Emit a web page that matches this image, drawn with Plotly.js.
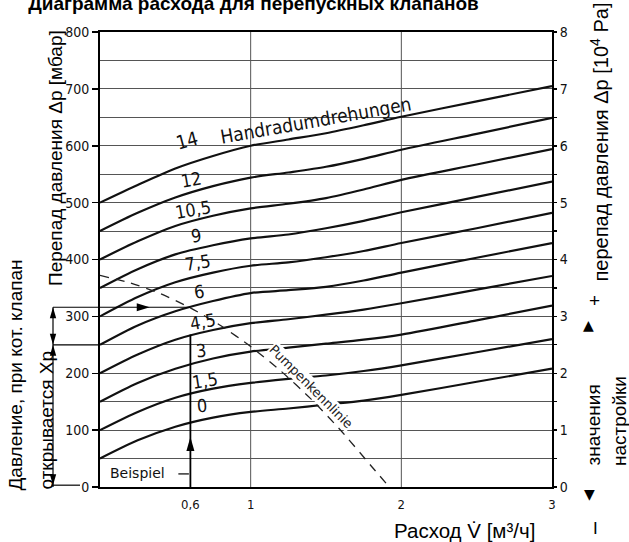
<!DOCTYPE html>
<html><head><meta charset="utf-8">
<script src="https://cdn.plot.ly/plotly-3.0.1.min.js"></script>
<style>html,body{margin:0;padding:0;background:#fff;}#chart{width:629px;height:542px;}</style>
</head><body><div id="chart"></div>
<script>
// ---- data ----
const flow = [0, 0.25, 0.5, 0.75, 1, 1.25, 1.5, 1.75, 2, 2.5, 3];
const settings = ['14', '12', '10,5', '9', '7,5', '6', '4,5', '3', '1,5', '0'];
const dp14  = [500, 531, 560, 582, 600, 611, 622, 636, 651, 678, 705];
const dp12  = [450, 482, 509, 529, 544, 553, 563, 577, 593, 621, 649];
const dp105 = [400, 432, 459, 477, 490, 498, 508, 523, 540, 567, 594];
const dp9   = [350, 383, 409, 425, 437, 444, 455, 468, 483, 510, 537];
const dp75  = [300, 334, 360, 377, 389, 395, 404, 415, 429, 455, 482];
const dp6   = [250, 284, 309, 327, 341, 346, 352, 363, 377, 403, 429];
const dp45  = [200, 233, 259, 276, 288, 295, 303, 312, 323, 347, 371];
const dp3   = [150, 183, 208, 226, 238, 245, 252, 259, 268, 293, 319];
const dp15  = [100, 132, 157, 173, 183, 190, 196, 204, 214, 237, 260];
const dp0   = [50, 82, 106, 122, 132, 138, 145, 152, 162, 185, 208];
const pumpFlow = [0, 0.2, 0.4, 0.6, 0.8, 1.0, 1.2, 1.4, 1.6, 1.8, 1.92];
const pumpDp   = [372, 359, 340, 315, 284, 247, 204, 155, 99, 37, 0];
const xTickVals = [0.6, 1, 2, 3];
const xTickText = ['0,6', '1', '2', '3'];
const leftTickVals = [0, 100, 200, 300, 400, 500, 600, 700, 800];
const rightTickVals = [0, 1, 2, 3, 4, 5, 6, 7, 8];
const exampleFlow = 0.6;      // Beispiel
const exampleDp = 316;        // pressure at example point
const exampleLineTop = 268;   // top of drawn vertical example line
const exampleArrowDp = 88;    // arrow tip on vertical line
const exampleArrowFlow = 0.33;// arrow tip on horizontal line
const openingDp = 250;        // Xp

const series = [dp14, dp12, dp105, dp9, dp75, dp6, dp45, dp3, dp15, dp0];

// ---- geometry ----
const W = 629, H = 542;
const M = {l: 100, r: 77, t: 32, b: 55};
const PW = W - M.l - M.r, PH = H - M.t - M.b;
const XR = [0, 3], YR = [0, 800];
const pxX = px => (px - M.l) / PW;            // paper x from pixel
const pxY = py => (H - M.b - py) / PH;        // paper y from pixel
const dX = v => (v - XR[0]) / (XR[1] - XR[0]); // paper x from data
const dY = v => (v - YR[0]) / (YR[1] - YR[0]); // paper y from data

const curveColor = '#111';
const traces = series.map((ys, i) => ({
  x: flow, y: ys, mode: 'lines', name: settings[i], hoverinfo: 'skip',
  line: {shape: 'spline', smoothing: 0.8, color: curveColor, width: 2.2}
}));
traces.push({x: pumpFlow, y: pumpDp, mode: 'lines', hoverinfo: 'skip',
  line: {shape: 'spline', smoothing: 0.6, color: '#222', width: 1.3, dash: '9px,7px'}});
traces.push({x: [0], y: [0], yaxis: 'y2', mode: 'markers', marker: {opacity: 0}, hoverinfo: 'skip'});

const digitFont = "'DejaVu Sans Condensed', 'Liberation Sans Narrow', 'DejaVu Sans', sans-serif";
const ruFont = "'Liberation Sans', Arial, sans-serif";

// arrowhead path in paper coords: tip (paper), direction, length, half width (px)
function arrow(tx, ty, dir, len, hw) {
  const lx = len / PW, ly = len / PH, wx = hw / PW, wy = hw / PH;
  let p;
  if (dir === 'up') p = `M${tx},${ty} L${tx - wx},${ty - ly} L${tx + wx},${ty - ly} Z`;
  else if (dir === 'down') p = `M${tx},${ty} L${tx - wx},${ty + ly} L${tx + wx},${ty + ly} Z`;
  else p = `M${tx},${ty} L${tx - lx},${ty - wy} L${tx - lx},${ty + wy} Z`;
  return {type: 'path', xref: 'paper', yref: 'paper', path: p, fillcolor: '#000', line: {width: 0}};
}

const dimX = pxX(53);
const shapes = [
  {type: 'line', xref: 'x', yref: 'paper', x0: 1, x1: 1, y0: 0, y1: 1, line: {color: '#555', width: 1}, layer: 'below'},
  {type: 'line', xref: 'x', yref: 'paper', x0: 2, x1: 2, y0: 0, y1: 1, line: {color: '#555', width: 1}, layer: 'below'},
  {type: 'line', xref: 'x', yref: 'y', x0: exampleFlow, x1: exampleFlow, y0: 0, y1: exampleLineTop, line: {color: '#000', width: 1.8}},
  {type: 'line', xref: 'x', yref: 'y', x0: 0.52, x1: 0.59, y0: 23, y1: 23, line: {color: '#000', width: 1.2}},
  {type: 'line', xref: 'paper', yref: 'y', x0: dimX, x1: dX(exampleFlow), y0: exampleDp, y1: exampleDp, line: {color: '#000', width: 1.2}},
  {type: 'line', xref: 'paper', yref: 'y', x0: dimX, x1: 0, y0: openingDp, y1: openingDp, line: {color: '#000', width: 1.2}},
  {type: 'line', xref: 'paper', yref: 'paper', x0: dimX - 0.004, x1: pxX(80), y0: 0.004, y1: 0.004, line: {color: '#000', width: 1.2}},
  {type: 'line', xref: 'paper', yref: 'paper', x0: dimX, x1: dimX, y0: dY(0), y1: dY(exampleDp), line: {color: '#000', width: 1.2}},
  arrow(dX(exampleFlow), dY(exampleArrowDp), 'up', 14, 4),
  arrow(dX(exampleArrowFlow), dY(exampleDp), 'right', 13, 4),
  arrow(dimX, dY(exampleDp), 'up', 11, 3.2),
  arrow(dimX, dY(openingDp), 'down', 11, 3.2),
  arrow(dimX, dY(openingDp), 'up', 11, 3.2),
  arrow(dimX, dY(0) + 0.004, 'down', 11, 3.2)
];

const labelPos = [
  [0.58, 610, -15], [0.61, 540, -10], [0.62, 488, -10], [0.64, 443, -8], [0.65, 394, -9],
  [0.66, 344, -8], [0.685, 291, -10], [0.67, 240, -6], [0.70, 188, -9], [0.68, 143, -5]
];
const annotations = settings.map((s, i) => ({
  text: s, x: labelPos[i][0], y: labelPos[i][1], xref: 'x', yref: 'y', showarrow: false,
  xanchor: 'center', yanchor: 'middle',
  textangle: labelPos[i][2], font: {family: digitFont, size: i === 0 ? 19 : 18, color: '#111'}
}));
function pa(text, px, py, opts) {
  return Object.assign({text: text, xref: 'paper', yref: 'paper', x: pxX(px), y: pxY(py),
    xanchor: 'center', yanchor: 'middle', showarrow: false,
    font: {family: ruFont, size: 19, color: '#000'}}, opts || {});
}
annotations.push(
  {text: 'Handradumdrehungen', x: 1.434, y: 645, xref: 'x', yref: 'y', showarrow: false, textangle: -10,
   xanchor: 'center', yanchor: 'middle', font: {family: digitFont, size: 19, color: '#111'}},
  {text: 'Pumpenkennlinie', x: 1.40, y: 176, xref: 'x', yref: 'y', showarrow: false, textangle: 45,
   xanchor: 'center', yanchor: 'middle',
   bgcolor: '#fff', borderpad: 0, font: {family: "'DejaVu Sans', sans-serif", size: 13, color: '#222'}},
  {text: 'Beispiel', x: 0.252, y: 25, xref: 'x', yref: 'y', showarrow: false, xanchor: 'center', yanchor: 'middle',
   font: {family: "'DejaVu Sans', sans-serif", size: 14, color: '#111'}},
  pa('Перепад давления Δp [мбар]', 55, 158, {textangle: -90}),
  pa('Давление, при кот. клапан', 15, 493, {textangle: -90, yanchor: 'bottom'}),
  pa('открывается Xp', 46, 492, {textangle: -90, yanchor: 'bottom'}),
  pa('перепад давления Δp [10<sup>4</sup> Pa]', 599, 284, {textangle: -90, yanchor: 'bottom',
     font: {family: ruFont, size: 20, color: '#000'}}),
  pa('+', 594, 300),
  pa('▲', 588.5, 325, {font: {family: "'DejaVu Sans', sans-serif", size: 14, color: '#000'}}),
  pa('значения', 593, 468, {textangle: -90, yanchor: 'bottom'}),
  pa('настройки', 619, 468, {textangle: -90, yanchor: 'bottom'}),
  pa('▼', 589, 494, {font: {family: "'DejaVu Sans', sans-serif", size: 14, color: '#000'}}),
  pa('I', 595, 528, {font: {family: ruFont, size: 17, color: '#000'}}),
  pa('Расход V̇ [м³/ч]', 464, 530, {font: {family: ruFont, size: 20.5, color: '#000'}})
);

const tickFont = {family: digitFont, size: 14, color: '#111'};
const layout = {
  width: W, height: H, margin: {l: M.l, r: M.r, t: M.t, b: M.b, pad: 0},
  paper_bgcolor: '#fff', plot_bgcolor: '#fff', showlegend: false,
  title: {text: '<b>Диаграмма расхода для перепускных клапанов</b>', x: 253.5 / W, xanchor: 'center',
          y: 1 - 3 / H, yanchor: 'middle', font: {family: ruFont, size: 19, color: '#000'}},
  xaxis: {range: XR, tickvals: xTickVals, ticktext: xTickText, ticks: '', showgrid: false, zeroline: false,
          showline: true, mirror: true, linecolor: '#000', linewidth: 2, tickfont: {family: digitFont, size: 13, color: '#111'},
          ticklabelstandoff: 4, fixedrange: true},
  yaxis: {range: YR, tickvals: leftTickVals, ticks: 'outside', ticklen: 6, tickwidth: 1.5, tickcolor: '#000',
          showgrid: true, gridcolor: '#555', gridwidth: 1, zeroline: false,
          minor: {dtick: 50, tick0: 0, showgrid: true, gridcolor: '#555', gridwidth: 1, ticks: ''},
          showline: true, mirror: true, linecolor: '#000', linewidth: 2, tickfont: tickFont, fixedrange: true},
  yaxis2: {overlaying: 'y', side: 'right', range: [0, 8], tickvals: rightTickVals, ticks: 'outside', ticklen: 4,
           tickwidth: 1.5, tickcolor: '#000', showgrid: false, zeroline: false, showline: false,
           minor: {dtick: 0.5, tick0: 0, ticks: 'outside', ticklen: 4, tickwidth: 1.2, tickcolor: '#000'},
           tickfont: tickFont, fixedrange: true},
  shapes: shapes, annotations: annotations
};
Plotly.newPlot('chart', traces, layout, {displayModeBar: false, staticPlot: true});
</script></body></html>
